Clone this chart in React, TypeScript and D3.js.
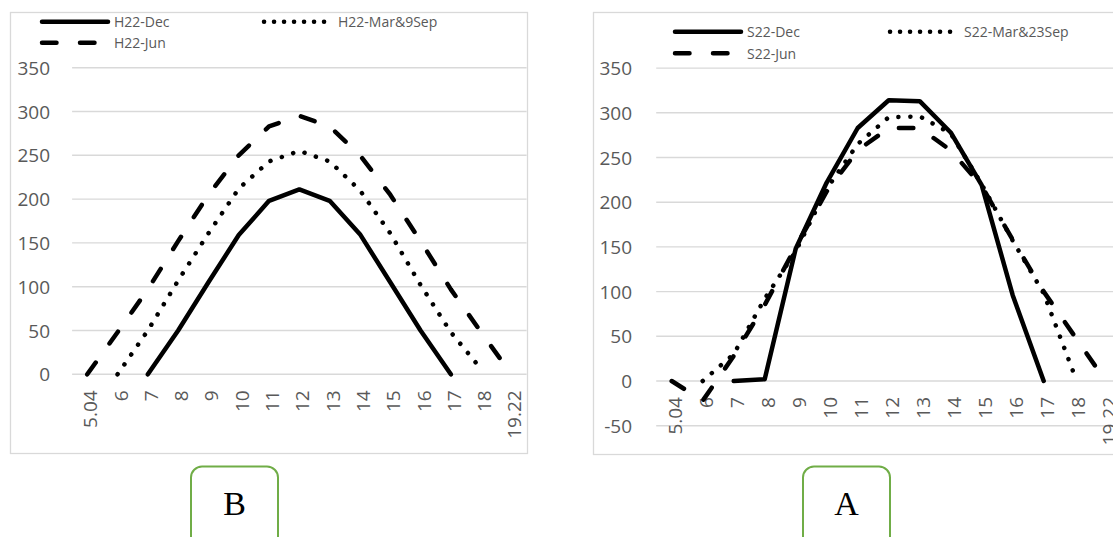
import React from "react";
import * as d3 from "d3";

const categories = ["5.04", "6", "7", "8", "9", "10", "11", "12", "13", "14", "15", "16", "17", "18", "19.22"];

// Chart B (left)
const h22Dec: (number | null)[] = [null, null, 0, 50, 105, 159, 198, 211, 198, 160, 105, 50, 0, null, null];
const h22MarSep: (number | null)[] = [null, 0, 50, 107, 161, 212, 243, 255, 243, 210, 161, 102, 48, 6, null];
const h22Jun: (number | null)[] = [0, 48, 97, 152, 205, 250, 283, 295, 283, 250, 205, 152, 97, 48, 0];
const leftTicks = [0, 50, 100, 150, 200, 250, 300, 350];
const leftNames = ["H22-Dec", "H22-Mar&9Sep", "H22-Jun"];

// Chart A (right)
const s22Dec: (number | null)[] = [null, null, 0, 2, 148, 222, 283, 314, 313, 278, 219, 96, 0, null, null];
const s22MarSep: (number | null)[] = [null, 0, 30, 92, 145, 215, 265, 295, 296, 277, 220, 157, 98, 6, null];
const s22Jun: (number | null)[] = [0, -22, 28, 85, 150, 212, 258, 283, 283, 258, 218, 158, 100, 50, 0];
const rightTicks = [-50, 0, 50, 100, 150, 200, 250, 300, 350];
const rightNames = ["S22-Dec", "S22-Mar&23Sep", "S22-Jun"];

const FONT = "'Open Sans', Lato, sans-serif";
const GRID = "#d9d9d9";
const TXT = "#595959";
const SW = 4.5;
const DASH = "14.5 23.5";
const DOT = "0.1 11.9";

type ChartProps = {
  box: { x: number; y: number; w: number; h: number };
  xRange: [number, number];
  yDomain: [number, number];
  yRange: [number, number];
  ticks: number[];
  series: (number | null)[][];
  names: string[];
  labelRight: number;
  legend: { solidX: [number, number]; dotX: [number, number]; row1: number; row2: number };
};

function Chart({ box, xRange, yDomain, yRange, ticks, series, names, labelRight, legend }: ChartProps) {
  const x = d3.scaleBand<string>().domain(categories).range(xRange).padding(0);
  const y = d3.scaleLinear().domain(yDomain).range(yRange);
  const line = d3
    .line<number | null>()
    .defined((d) => d !== null)
    .x((_, i) => (x(categories[i]) as number) + x.bandwidth() / 2)
    .y((d) => y(d as number));
  const styles = [
    { dash: undefined as string | undefined },
    { dash: DOT },
    { dash: DASH },
  ];
  const y0 = y(0);
  return (
    <g>
      <rect x={box.x + 0.5} y={box.y + 0.5} width={box.w} height={box.h} fill="#fff" stroke={GRID} strokeWidth={1.3} />
      {ticks.map((t) => (
        <g key={t}>
          <line x1={xRange[0]} x2={xRange[1]} y1={y(t)} y2={y(t)} stroke={GRID} strokeWidth={1.4} />
          <text x={labelRight} y={y(t)} textAnchor="end" dominantBaseline="central" fontFamily={FONT} fontSize={19} fill={TXT}>
            {t}
          </text>
        </g>
      ))}
      {categories.map((c) => {
        const cx = (x(c) as number) + x.bandwidth() / 2 + 3;
        const ty = y0 + 16;
        return (
          <text
            key={c}
            transform={`translate(${cx},${ty}) rotate(-90)`}
            textAnchor="end"
            dominantBaseline="central"
            fontFamily={FONT}
            fontSize={19}
            fill={TXT}
          >
            {c}
          </text>
        );
      })}
      {series.map((s, i) => (
        <path
          key={i}
          d={line(s) || ""}
          fill="none"
          stroke="#000"
          strokeWidth={SW}
          strokeLinecap="round"
          strokeLinejoin="round"
          strokeDasharray={styles[i].dash}
        />
      ))}
      {/* legend */}
      <line x1={legend.solidX[0]} x2={legend.solidX[1]} y1={legend.row1} y2={legend.row1} stroke="#000" strokeWidth={SW} strokeLinecap="round" />
      <text x={legend.solidX[1] + 6} y={legend.row1} dominantBaseline="central" fontFamily={FONT} fontSize={14} fill={TXT}>
        {names[0]}
      </text>
      <line x1={legend.dotX[0]} x2={legend.dotX[1]} y1={legend.row1} y2={legend.row1} stroke="#000" strokeWidth={SW} strokeLinecap="round" strokeDasharray="0.1 9.9" />
      <text x={legend.dotX[1] + 6} y={legend.row1} dominantBaseline="central" fontFamily={FONT} fontSize={14} fill={TXT}>
        {names[1]}
      </text>
      <line x1={legend.solidX[0]} x2={legend.solidX[1]} y1={legend.row2} y2={legend.row2} stroke="#000" strokeWidth={SW} strokeLinecap="round" strokeDasharray={DASH} />
      <text x={legend.solidX[1] + 6} y={legend.row2} dominantBaseline="central" fontFamily={FONT} fontSize={14} fill={TXT}>
        {names[2]}
      </text>
    </g>
  );
}

function Tag({ x, label }: { x: number; label: string }) {
  return (
    <g>
      <rect x={x} y={466.5} width={87} height={90} rx={11} ry={11} fill="#fff" stroke="#70ad47" strokeWidth={2} />
      <text x={x + 43.5} y={515} textAnchor="middle" fontFamily="'Liberation Serif', 'Times New Roman', serif" fontSize={34} fill="#000">
        {label}
      </text>
    </g>
  );
}

export default function App() {
  return (
    <svg width={1113} height={537} style={{ position: "absolute", left: 0, top: 0, background: "#fff" }}>
      <rect x={0} y={0} width={1113} height={537} fill="#fff" />
      <Chart
        box={{ x: 10, y: 12, w: 517, h: 441 }}
        xRange={[72.1, 526.6]}
        yDomain={[0, 350]}
        yRange={[374.3, 67.7]}
        ticks={leftTicks}
        series={[h22Dec, h22MarSep, h22Jun]}
        names={leftNames}
        labelRight={50}
        legend={{ solidX: [42, 108], dotX: [264, 332], row1: 21.7, row2: 42.7 }}
      />
      <Chart
        box={{ x: 593, y: 12, w: 540, h: 442 }}
        xRange={[656.2, 1121.2]}
        yDomain={[-50, 350]}
        yRange={[425.7, 68.1]}
        ticks={rightTicks}
        series={[s22Dec, s22MarSep, s22Jun]}
        names={rightNames}
        labelRight={632}
        legend={{ solidX: [675, 741], dotX: [890, 958], row1: 31.7, row2: 53.3 }}
      />
      <Tag x={191} label="B" />
      <Tag x={803} label="A" />
    </svg>
  );
}
